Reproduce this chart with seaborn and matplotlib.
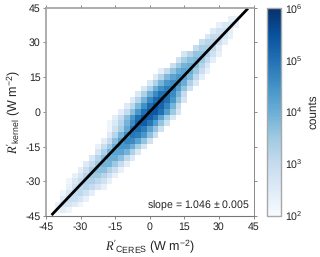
#!/usr/bin/env python3
# coding=utf-8
"""2D histogram of kernel vs CERES radiation anomalies."""

from matplotlib import pyplot as plt
from matplotlib.colors import LogNorm
import numpy as np
import seaborn as sns

# centre of the bottom row and bin size, W m-2
bin_size = 2.5
bin_first = -45.0

# for each row: y centre, x centre of first filled cell, log10(counts) per cell
row_y = [-42.5, -40, -37.5, -35, -32.5, -30, -27.5, -25, -22.5, -20, -17.5,
         -15, -12.5, -10, -7.5, -5, -2.5, 0, 2.5, 5, 7.5, 10, 12.5, 15, 17.5,
         20, 22.5, 25, 27.5, 30, 32.5, 35, 37.5, 40]
row_x_start = [-40, -40, -37.5, -37.5, -35, -35, -32.5, -30, -27.5, -25, -22.5,
               -22.5, -20, -17.5, -17.5, -17.5, -15, -12.5, -10, -7.5, -5,
               -2.5, 0, 2.5, 5, 10, 12.5, 15, 20, 22.5, 25, 27.5, 30, 35]
row_levels = [
    [2.2, 2.4, 2.2],
    [2.3, 2.7, 2.7, 2.5, 2.2],
    [2.5, 2.9, 2.9, 2.7, 2.3],
    [2.2, 2.7, 3.0, 3.1, 2.8, 2.4],
    [2.3, 2.8, 3.1, 3.2, 3.0, 2.7, 2.3],
    [2.2, 2.6, 3.0, 3.3, 3.3, 3.1, 2.8, 2.3],
    [2.3, 2.7, 3.2, 3.5, 3.5, 3.2, 2.8, 2.3],
    [2.4, 2.9, 3.4, 3.7, 3.7, 3.3, 2.9, 2.3],
    [2.5, 3.0, 3.5, 3.9, 3.9, 3.5, 3.0, 2.4],
    [2.6, 3.2, 3.7, 4.0, 4.0, 3.7, 3.1, 2.5],
    [2.7, 3.3, 3.9, 4.2, 4.2, 3.9, 3.3, 2.6],
    [2.3, 2.9, 3.5, 4.0, 4.4, 4.4, 4.0, 3.4, 2.7],
    [2.4, 3.0, 3.7, 4.3, 4.7, 4.6, 4.2, 3.6, 2.8],
    [2.5, 3.2, 3.9, 4.5, 4.9, 4.8, 4.4, 3.7, 2.9],
    [2.2, 2.8, 3.4, 4.1, 4.9, 5.1, 4.8, 4.2, 3.6, 2.8],
    [2.2, 2.6, 3.2, 3.9, 4.6, 5.2, 5.3, 4.9, 4.3, 3.6, 2.8],
    [2.4, 3.0, 3.7, 4.4, 5.0, 5.4, 5.3, 4.9, 4.2, 3.4, 2.6],
    [2.4, 3.0, 3.7, 4.4, 5.0, 5.4, 5.4, 5.0, 4.3, 3.5, 2.7],
    [2.5, 3.1, 3.8, 4.5, 5.1, 5.4, 5.2, 4.7, 3.9, 3.0],
    [2.5, 3.2, 3.9, 4.6, 5.1, 5.3, 5.0, 4.4, 3.6, 2.7],
    [2.6, 3.3, 4.0, 4.6, 5.0, 5.0, 4.6, 3.9, 3.0],
    [2.6, 3.3, 4.0, 4.5, 4.8, 4.8, 4.3, 3.6, 2.8],
    [2.6, 3.3, 3.9, 4.4, 4.6, 4.5, 4.0, 3.3, 2.6],
    [2.5, 3.2, 3.8, 4.2, 4.4, 4.2, 3.8, 3.1, 2.4],
    [2.4, 3.0, 3.6, 4.0, 4.2, 4.0, 3.5, 2.9, 2.3],
    [2.9, 3.5, 3.9, 4.0, 3.7, 3.2, 2.6],
    [2.8, 3.4, 3.7, 3.8, 3.5, 3.0, 2.4],
    [2.7, 3.2, 3.6, 3.6, 3.3, 2.8, 2.3],
    [3.0, 3.4, 3.4, 3.1, 2.5],
    [2.9, 3.2, 3.2, 2.9, 2.4],
    [2.6, 3.0, 3.0, 2.7, 2.3],
    [2.5, 2.8, 2.8, 2.4],
    [2.3, 2.6, 2.6, 2.3],
    [2.3, 2.3],
]

ticks = [-45, -30, -15, 0, 15, 30, 45]
tick_labels = ["-45", "-30", "-15", "0", "15", "30", "45"]
fit_x = [-42.6, 42.6]
fit_y = [-44.6, 44.6]
cbar_ticks = [1e2, 1e3, 1e4, 1e5, 1e6]
slope_text = "slope = 1.046 $\\pm$ 0.005"


def to_index(values):
    """Converts W m-2 values to heatmap cell coordinates"""
    return (np.asarray(values, dtype=float) - bin_first) / bin_size + 0.5


def build_counts():
    """Fills the square count matrix from the row lists"""
    counts = np.full((37, 37), np.nan)
    for y, x_start, levels in zip(row_y, row_x_start, row_levels):
        row = int(round((y - bin_first) / bin_size))
        col = int(round((x_start - bin_first) / bin_size))
        counts[row, col:col + len(levels)] = 10.0 ** np.array(levels)
    return counts


sns.set_theme(style="white")
plt.rcParams["font.family"] = ["Liberation Sans", "DejaVu Sans"]
plt.rcParams["mathtext.fontset"] = "custom"
plt.rcParams["mathtext.rm"] = "Liberation Sans"
plt.rcParams["mathtext.it"] = "Liberation Serif:italic"
plt.rcParams["mathtext.default"] = "regular"
plt.rcParams["text.hinting"] = "no_hinting"

W, H = 320, 257
fig = plt.figure(figsize=(W / 100, H / 100), dpi=100)
ax = fig.add_axes([46 / W, 1 - 216 / H, 207.5 / W, 208.5 / H])
cax = fig.add_axes([267 / W, 1 - 215.5 / H, 13.5 / W, 207.5 / H])

sns.heatmap(build_counts(), ax=ax, cbar_ax=cax, cmap="Blues",
            norm=LogNorm(vmin=1e2, vmax=1e6), square=False,
            xticklabels=False, yticklabels=False)

ax.set_xlim(0.5, 36.5)
ax.set_ylim(0.5, 36.5)
ax.plot(to_index(fit_x), to_index(fit_y), color="black", lw=2.0,
        solid_capstyle="butt")

ax.set_xticks(to_index(ticks))
ax.set_yticks(to_index(ticks))
ax.set_xticklabels(tick_labels, rotation=0)
ax.set_yticklabels(tick_labels, rotation=0)
ax.tick_params(axis="both", which="major", bottom=True, left=True, top=True,
               right=True, labelsize=7.6, length=2, width=0.6, pad=2,
               color="#777777", labelcolor="#222222", direction="out")

for side, width, color in [("top", 1.2, "#a0a0a0"), ("left", 1.2, "#a0a0a0"),
                           ("right", 0.7, "#888888"),
                           ("bottom", 0.8, "#777777")]:
    ax.spines[side].set_visible(True)
    ax.spines[side].set_linewidth(width)
    ax.spines[side].set_color(color)

ax.set_xlabel("$\\mathit{R'}_{CERES}$ (W m$^{-2}$)", fontsize=9.0,
              color="#222222", labelpad=4)
ax.set_ylabel("$\\mathit{R'}_{kernel}$ (W m$^{-2}$)", fontsize=9.0,
              color="#222222", labelpad=2)
ax.text(0.982, 0.05, slope_text, transform=ax.transAxes, ha="right",
        va="center", fontsize=7.6, color="#222222")

cbar = ax.collections[0].colorbar
cbar.set_ticks(cbar_ticks)
cbar.minorticks_off()
cbar.ax.tick_params(which="major", direction="in", length=10, width=0.7,
                    color="#666666", labelsize=7.6, labelcolor="#222222",
                    pad=3)
cbar.outline.set_visible(True)
cbar.outline.set_linewidth(1.0)
cbar.outline.set_edgecolor("#a8a8a8")
cbar.set_label("counts", fontsize=8.5, color="#222222", labelpad=4)

fig.savefig("out.png", dpi=100)
